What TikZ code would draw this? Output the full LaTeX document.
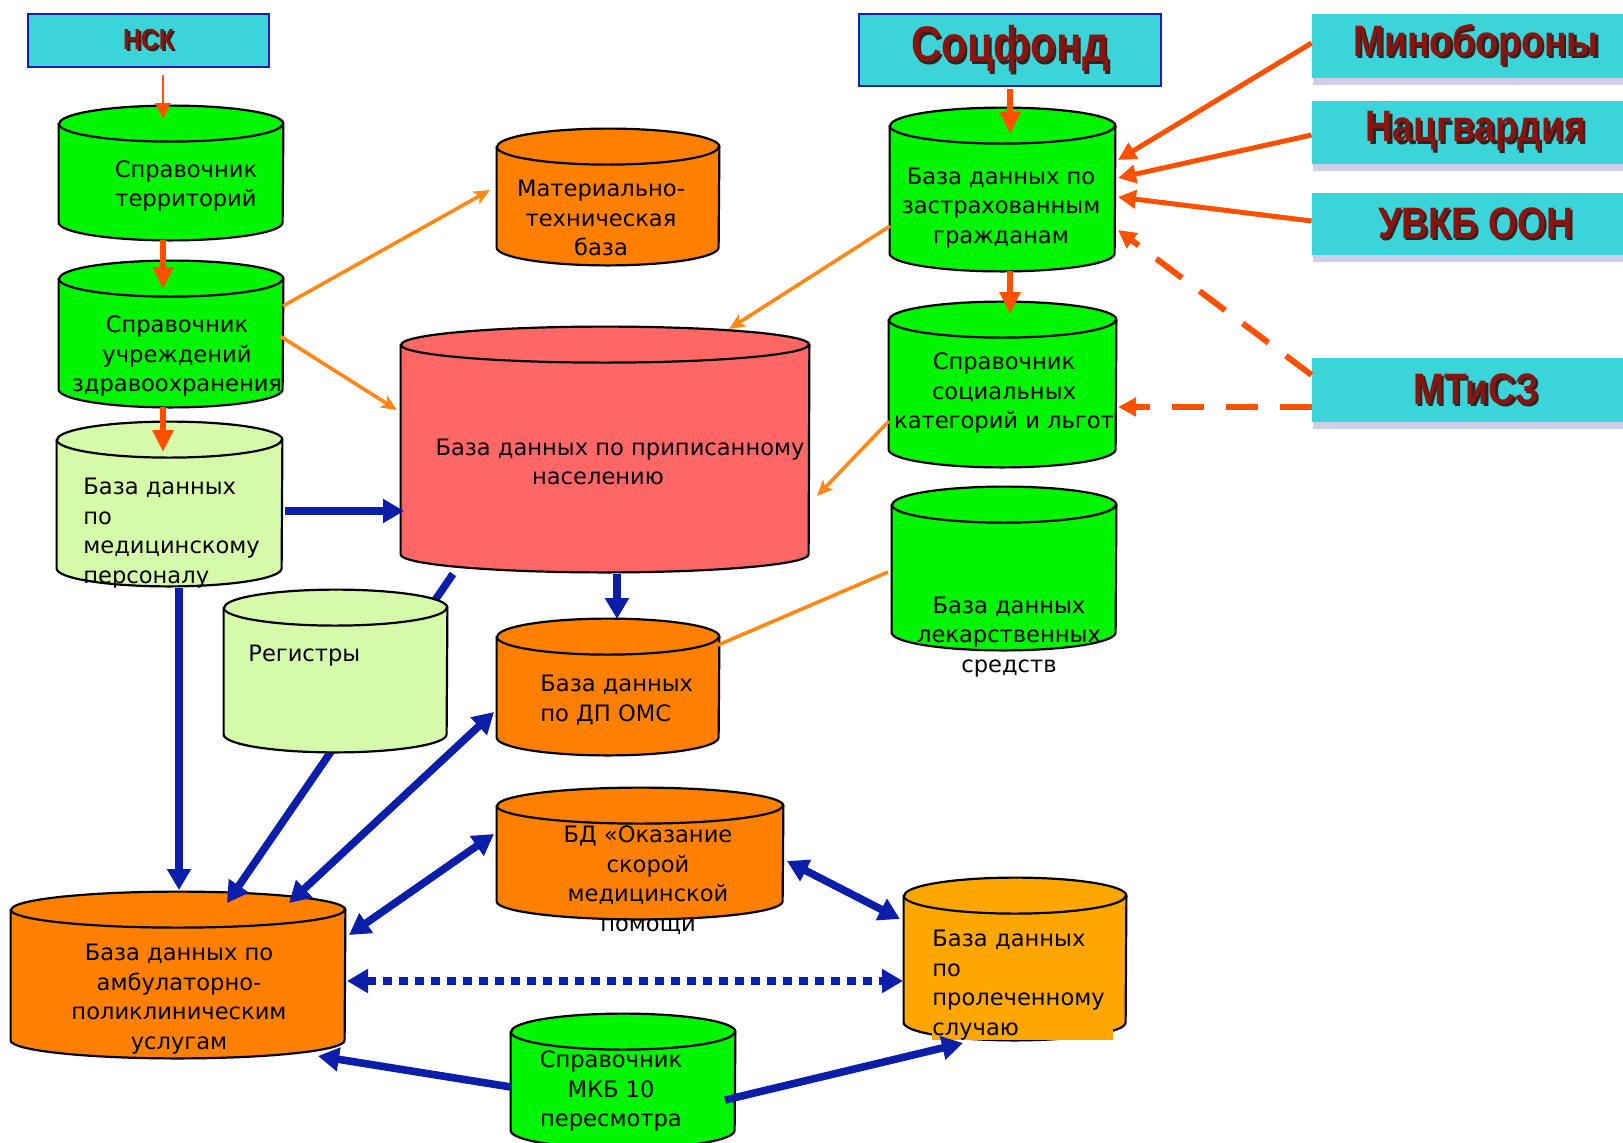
\documentclass[tikz,border=0pt]{standalone}
\usepackage{fontspec}
\setmainfont{DejaVu Sans}
\newfontfamily\headfont{Liberation Sans}[FakeStretch=0.85]
\usetikzlibrary{arrows.meta, shadows}

\definecolor{hdrcyan}{RGB}{59,212,216}
\definecolor{hdrblue}{RGB}{20,30,180}
\definecolor{hdrred}{RGB}{140,20,15}
\definecolor{shadowblue}{RGB}{175,175,222}
\definecolor{dbgreen}{RGB}{0,245,0}
\definecolor{dblight}{RGB}{212,250,170}
\definecolor{dborange}{RGB}{255,127,0}
\definecolor{dbred}{RGB}{255,102,102}
\definecolor{dbamber}{RGB}{255,166,0}
\definecolor{arrred}{RGB}{255,80,0}
\definecolor{arrorange}{RGB}{255,135,20}
\definecolor{arrblue}{RGB}{10,30,170}

% header text with its dark shadow
\newcommand{\shtxt}[1]{\makebox[0pt][l]{\hspace{1.1pt}\raisebox{-1.1pt}{\textcolor{black!85}{#1}}}#1}

\tikzset{
    dbry/.store in=\dbry, dbry=9pt,
    db/.style n args={3}{inner sep=0pt, minimum width=#1, minimum height=#2,
        append after command={\pgfextra{\let\dbnode\tikzlastnode
            \draw[line width=1.1pt, fill=#3, line join=round]
                ([yshift=-\dbry]\dbnode.north west) -- ([yshift=\dbry]\dbnode.south west)
                arc[start angle=180, end angle=360, x radius=#1/2, y radius=\dbry]
                -- ([yshift=-\dbry]\dbnode.north east)
                arc[start angle=0, end angle=180, x radius=#1/2, y radius=\dbry] -- cycle;
            \draw[line width=1.1pt]
                ([yshift=-\dbry]\dbnode.north west)
                arc[start angle=180, end angle=360, x radius=#1/2, y radius=\dbry];}}},
    txt/.style={align=center, inner sep=0pt, font=\fontsize{11.3}{14.75}\selectfont},
    txtl/.style={txt, align=left, anchor=west},
    hdr/.style={draw=hdrblue, line width=1.2pt, fill=hdrcyan, text=hdrred, inner sep=0pt},
    agency/.style={fill=hdrcyan, text=hdrred, inner sep=0pt, minimum width=164pt,
        drop shadow={shadow xshift=0.5pt, shadow yshift=-3.5pt, fill=shadowblue, opacity=0.6},
        font=\headfont\bfseries\fontsize{22}{24}\selectfont},
    thinarr/.style={draw=arrred, line width=1.3pt, -{Triangle[length=8pt,width=7.5pt]}},
    redarr/.style={draw=arrred, line width=3pt, -{Triangle[length=11pt,width=10pt]}},
    srcarr/.style={draw=arrred, line width=2.5pt, -{Triangle[length=9pt,width=9pt]}},
    dasharr/.style={srcarr, line width=3pt, dash pattern=on 16pt off 11pt},
    orarr/.style={draw=arrorange, line width=1.8pt, -{Stealth[length=8pt,width=7pt,inset=2pt]}},
    bluarr/.style={draw=arrblue, line width=3.8pt, -{Triangle[length=10.5pt,width=11.5pt]}},
    blubi/.style={bluarr, {Triangle[length=10.5pt,width=11.5pt]}-{Triangle[length=10.5pt,width=11.5pt]}}
}

\begin{document}
\begin{tikzpicture}[x=0.5pt, y=-0.5pt]
    \useasboundingbox (0,0) rectangle (1623,1142);
    \clip (0,0) rectangle (1623,1142);

    % headers
    \node[hdr, minimum width=120.5pt, minimum height=26.5pt, font=\headfont\bfseries\fontsize{14.5}{16}\selectfont] (nsk) at (148.5,40.5) {\shtxt{НСК}};
    \node[hdr, minimum width=151pt, minimum height=36pt, font=\headfont\bfseries\fontsize{25}{27}\selectfont] (sf) at (1010,50) {\shtxt{Соцфонд}};
    \node[agency, minimum height=32pt] (mo) at (1476,46) {\shtxt{Минобороны}};
    \node[agency, minimum height=31.5pt] (ng) at (1476,132.5) {\shtxt{Нацгвардия}};
    \node[agency, minimum height=31pt] (uv) at (1476,224) {\shtxt{УВКБ ООН}};
    \node[agency, minimum height=32pt] (mt) at (1476,390) {\shtxt{МТиСЗ}};

    % databases
    \node[db={112pt}{67pt}{dbgreen}] (terr) at (171,173) {};
    \node[db={112pt}{73pt}{dbgreen}] (inst) at (171,334) {};
    \node[db={112.5pt}{82pt}{dblight}] (pers) at (169.5,504) {};
    \node[db={111pt}{68pt}{dborange}] (mtb) at (608,197) {};
    \node[db={204pt}{122.5pt}{dbred}, dbry=10.5pt] (pop) at (605,449.5) {};
    \node[db={111pt}{68pt}{dborange}] (dpoms) at (608,687) {};
    \node[db={143pt}{65.5pt}{dborange}] (smp) at (640,853.5) {};
    \node[db={167pt}{83pt}{dborange}] (amb) at (178,975) {};
    \node[db={112pt}{67pt}{dbgreen}] (mkb) at (623,1081) {};
    \node[db={111pt}{81pt}{dbamber}] (treat) at (1015,959) {};
    \node[db={112.5pt}{81.5pt}{dbgreen}, dbry=9.5pt] (ins) at (1002.5,189.5) {};
    \node[db={113.5pt}{82.5pt}{dbgreen}, dbry=9.5pt] (socc) at (1002.5,384.5) {};
    \node[db={112pt}{81.5pt}{dbgreen}, dbry=9.5pt] (drug) at (1004,568.5) {};

    % this one runs behind the registers
    \draw[bluarr] ([shift={(-152,124.5)}]pop.center) -- ([shift={(49,-72)}]amb.center);
    \node[db={111.5pt}{81pt}{dblight}] (reg) at (335.5,671) {};

    % texts
    \node[txt] (tTerr) at (186,186) {Справочник\\территорий};
    \node[txt] (tInst) at (177,356) {Справочник\\учреждений\\здравоохранения};
    \node[txtl] (tPers) at (83,533) {База данных\\по\\медицинскому\\персоналу};
    \node[txt] (tMtb) at (601,218) {Материально-\\техническая\\база};
    \node[txt] (tPop) at (620,462) {База данных по приписанному\\населению\hspace*{22pt}};
    \node[txtl] (tReg) at (248,656) {Регистры};
    \node[txtl] (tDpoms) at (540,700) {База данных\\по ДП ОМС};
    \node[txt] (tSmp) at (648,880) {БД «Оказание\\скорой\\медицинской\\помощи};
    \node[txt] (tAmb) at (179,999) {База данных по\\амбулаторно-\\поликлиническим\\услугам};
    \node[txt] (tMkb) at (611,1091) {Справочник\\МКБ 10\\пересмотра};
    \node[txtl, text width=90.5pt, fill=dbamber] (tTreat) at (932,985) {База данных\\по\\пролеченному\\случаю};
    \node[txt] (tIns) at (1001,208) {База данных по\\застрахованным\\гражданам};
    \node[txt] (tSoc) at (1004,393) {Справочник\\социальных\\категорий и льгот};
    \node[txt] (tDrug) at (1009,637) {База данных\\лекарственных\\средств};

    % red-orange feeds
    \draw[thinarr] ([shift={(14.5,7)}]nsk.south) -- ([shift={(-8,-54)}]terr.center);
    \draw[redarr] ([shift={(-8,67)}]terr.center) -- ([shift={(-8,-45)}]inst.center);
    \draw[redarr] ([shift={(-8,73)}]inst.center) -- ([shift={(-6.5,-52)}]pers.center);
    \draw[redarr] ([shift={(0,2)}]sf.south) -- ([shift={(7.5,-55.5)}]ins.center);
    \draw[redarr] ([shift={(7.5,81.5)}]ins.center) -- ([shift={(7.5,-70.5)}]socc.center);
    \draw[srcarr] ([shift={(0,-3)}]mo.west) -- ([shift={(115.5,-29.5)}]ins.center);
    \draw[srcarr] ([shift={(0,2.5)}]ng.west) -- ([shift={(115.5,-11.5)}]ins.center);
    \draw[srcarr] ([shift={(0,-3)}]uv.west) -- ([shift={(115.5,7.5)}]ins.center);
    \draw[dasharr] ([shift={(0,-15)}]mt.west) -- ([shift={(115.5,40.5)}]ins.center);
    \draw[dasharr] ([shift={(0,17)}]mt.west) -- ([shift={(115.5,22.5)}]socc.center);

    % orange links
    \draw[orarr] ([shift={(112,-28)}]inst.center) -- ([shift={(-118,-7)}]mtb.center);
    \draw[orarr] ([shift={(109,2)}]inst.center) -- ([shift={(-208,-39.5)}]pop.center);
    \draw[orarr] ([shift={(-112.5,36.5)}]ins.center) -- ([shift={(124,-120.5)}]pop.center);
    \draw[orarr] ([shift={(-113.5,36.5)}]socc.center) -- ([shift={(212,46.5)}]pop.center);
    \draw[draw=arrorange, line width=1.8pt] ([shift={(-116,3.5)}]drug.center) -- ([shift={(110,-42)}]dpoms.center);

    % blue links
    \draw[bluarr] ([shift={(115.5,7)}]pers.center) -- ([shift={(-201,61.5)}]pop.center);
    \draw[bluarr] ([shift={(12,124)}]pop.center) -- ([shift={(9,-68)}]dpoms.center);
    \draw[bluarr] ([shift={(9.5,84)}]pers.center) -- ([shift={(1,-85)}]amb.center);
    \draw[blubi] ([shift={(-114,25)}]dpoms.center) -- ([shift={(111,-72)}]amb.center);
    \draw[blubi] ([shift={(-146,-19.5)}]smp.center) -- ([shift={(171,-40)}]amb.center);
    \draw[blubi] ([shift={(147,7.5)}]smp.center) -- ([shift={(-115,-40)}]treat.center);
    \draw[blubi, dash pattern=on 4.5pt off 3.5pt] ([shift={(169,6)}]amb.center) -- ([shift={(-112,22)}]treat.center);
    \draw[bluarr] ([shift={(-112,6)}]mkb.center) -- ([shift={(140,81)}]amb.center);
    \draw[bluarr] ([shift={(102,19)}]mkb.center) -- ([shift={(-52,84)}]treat.center);
\end{tikzpicture}
\end{document}
